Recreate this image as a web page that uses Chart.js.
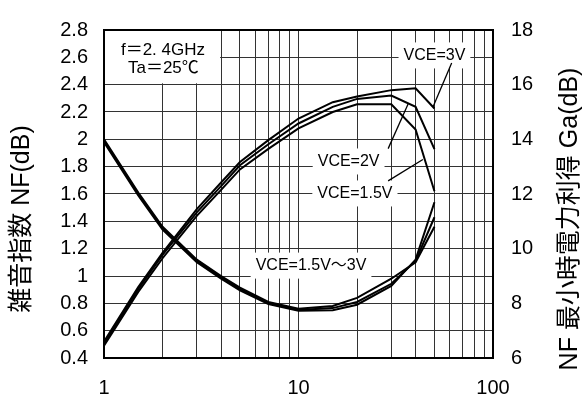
<!DOCTYPE html>
<html>
<head>
<meta charset="utf-8">
<script src="https://cdn.jsdelivr.net/npm/chart.js@4.4.1/dist/chart.umd.min.js"></script>
<style>
    html, body { margin: 0; padding: 0; background: #fff; }
    #wrap { width: 588px; height: 403px; }
</style>
</head>
<body>
<div id="wrap"><canvas id="chart1"></canvas></div>
<script>
// IC (mA)
const icValues = [1, 1.5, 2, 3, 4, 5, 7, 10, 15, 20, 30, 40, 50];

// NF (dB), left axis
const nf3V = [2.00, 1.61, 1.36, 1.12, 1.00, 0.915, 0.81, 0.76, 0.78, 0.84, 0.98, 1.10, 1.36];
const nf2V = [1.99, 1.60, 1.35, 1.11, 0.99, 0.905, 0.80, 0.752, 0.765, 0.81, 0.943, 1.11, 1.43];
const nf15V = [1.98, 1.59, 1.34, 1.10, 0.98, 0.895, 0.795, 0.745, 0.75, 0.79, 0.927, 1.12, 1.54];

// Ga (dB), right axis
const ga3V = [6.60, 8.60, 9.85, 11.45, 12.42, 13.17, 13.97, 14.76, 15.36, 15.57, 15.80, 15.87, 15.13];
const ga2V = [6.52, 8.52, 9.77, 11.33, 12.29, 13.05, 13.82, 14.58, 15.19, 15.48, 15.60, 15.19, 13.64];
const ga15V = [6.45, 8.42, 9.65, 11.20, 12.15, 12.90, 13.65, 14.40, 15.00, 15.28, 15.28, 14.36, 12.10];

const xTicks = [1, 2, 3, 4, 5, 6, 7, 8, 9, 10, 20, 30, 40, 50, 60, 70, 80, 90, 100];
const xLabelTicks = [1, 10, 100];
const nfTicks = [0.4, 0.6, 0.8, 1, 1.2, 1.4, 1.6, 1.8, 2, 2.2, 2.4, 2.6, 2.8];
const gaTicks = [6, 8, 10, 12, 14, 16, 18];

const FONT = '"Liberation Sans", Arial, "Noto Sans CJK JP", sans-serif';

function makeLine(values, axis) {
    return {
        data: icValues.map(function (x, i) { return { x: x, y: values[i] }; }),
        yAxisID: axis,
        borderColor: '#000',
        borderWidth: 2,
        pointRadius: 0,
        tension: 0,
        fill: false
    };
}

// labels and leader lines, placed in data units
const notes = [
    { text: 'VCE=3V', x: 50, y: 17.07, axis: 'y2' },
    { text: 'VCE=2V', x: 18.1, y: 13.19, axis: 'y2' },
    { text: 'VCE=1.5V', x: 19.5, y: 12.02, axis: 'y2' },
    { text: 'VCE=1.5V～3V', x: 11.6, y: 1.076, axis: 'y' }
];
const leaders = [
    { x1: 61.3, y1: 16.79, x2: 49.2, y2: 15.19 },
    { x1: 28.9, y1: 13.66, x2: 36.6, y2: 15.29 },
    { x1: 28.9, y1: 12.48, x2: 43.6, y2: 13.26 }
];

const notePlugin = {
    id: 'notes',
    beforeDatasetsDraw: function (chart) {
        const ctx = chart.ctx;
        const sx = chart.scales.x, sy = chart.scales.y, sg = chart.scales.y2;
        ctx.save();

        // condition box
        const bx1 = sx.getPixelForValue(1), bx2 = sx.getPixelForValue(4);
        const by1 = sy.getPixelForValue(2.8), by2 = sy.getPixelForValue(2.41);
        ctx.fillStyle = '#fff';
        ctx.fillRect(bx1, by1, bx2 - bx1 - 1, by2 - by1);
        ctx.fillStyle = '#000';
        ctx.font = '17px ' + FONT;
        ctx.textAlign = 'center';
        ctx.textBaseline = 'middle';
        ctx.fillText('f＝2. 4GHz', sx.getPixelForValue(2.01), sy.getPixelForValue(2.654));
        ctx.fillText('Ta＝25℃', sx.getPixelForValue(2.02), sy.getPixelForValue(2.522));

        ctx.font = '16px ' + FONT;
        notes.forEach(function (n) {
            const scale = n.axis === 'y2' ? sg : sy;
            const px = sx.getPixelForValue(n.x), py = scale.getPixelForValue(n.y);
            const w = ctx.measureText(n.text).width;
            ctx.fillStyle = '#fff';
            ctx.fillRect(px - w / 2 - 5, py - 13, w + 10, 26);
            ctx.fillStyle = '#000';
            ctx.fillText(n.text, px, py);
        });

        ctx.strokeStyle = '#000';
        ctx.lineWidth = 1.3;
        leaders.forEach(function (l) {
            ctx.beginPath();
            ctx.moveTo(sx.getPixelForValue(l.x1), sg.getPixelForValue(l.y1));
            ctx.lineTo(sx.getPixelForValue(l.x2), sg.getPixelForValue(l.y2));
            ctx.stroke();
        });
        ctx.restore();
    },
    afterDraw: function (chart) {
        const ctx = chart.ctx;
        const a = chart.chartArea;
        const midY = (a.top + a.bottom) / 2;
        ctx.save();
        ctx.strokeStyle = '#000';
        ctx.lineWidth = 2;
        ctx.strokeRect(a.left, a.top, a.right - a.left, a.bottom - a.top);

        ctx.fillStyle = '#000';
        ctx.font = '25px ' + FONT;
        ctx.textAlign = 'center';
        ctx.textBaseline = 'middle';

        ctx.translate(a.left - 82, midY + 25);
        ctx.rotate(-Math.PI / 2);
        ctx.fillText('雑音指数 NF(dB)', 0, 0);
        ctx.restore();

        ctx.save();
        ctx.fillStyle = '#000';
        ctx.font = '25px ' + FONT;
        ctx.textAlign = 'center';
        ctx.textBaseline = 'middle';
        ctx.translate(a.right + 77, midY + 25);
        ctx.rotate(-Math.PI / 2);
        ctx.fillText('NF 最小時電力利得 Ga(dB)', 0, 0);
        ctx.restore();
    }
};

Chart.defaults.font.family = FONT;
Chart.defaults.color = '#000';

const ctx1 = document.getElementById('chart1');
const myChart = new Chart(ctx1, {
    type: 'line',
    data: {
        datasets: [
            makeLine(nf3V, 'y'),
            makeLine(nf2V, 'y'),
            makeLine(nf15V, 'y'),
            makeLine(ga3V, 'y2'),
            makeLine(ga2V, 'y2'),
            makeLine(ga15V, 'y2')
        ]
    },
    options: {
        responsive: true,
        maintainAspectRatio: false,
        animation: false,
        layout: {
            padding: { top: 21, left: 0, right: 0, bottom: 0 }
        },
        plugins: {
            legend: { display: false },
            tooltip: { enabled: false }
        },
        scales: {
            x: {
                type: 'logarithmic',
                min: 1,
                max: 100,
                afterBuildTicks: function (scale) {
                    scale.ticks = xTicks.map(function (v) { return { value: v }; });
                },
                afterFit: function (scale) { scale.height = 45; },
                grid: { color: '#333', lineWidth: 1, drawTicks: false },
                border: { display: false },
                ticks: {
                    autoSkip: false,
                    maxRotation: 0,
                    padding: 18,
                    font: { size: 20 },
                    callback: function (v) {
                        return xLabelTicks.indexOf(v) >= 0 ? String(v) : '';
                    }
                }
            },
            y: {
                position: 'left',
                min: 0.4,
                max: 2.8,
                afterBuildTicks: function (scale) {
                    scale.ticks = nfTicks.map(function (v) { return { value: v }; });
                },
                afterFit: function (scale) { scale.width = 104; },
                grid: { color: '#333', lineWidth: 1, drawTicks: false },
                border: { display: false },
                ticks: {
                    padding: 16,
                    font: { size: 20 },
                    callback: function (v) { return String(v); }
                }
            },
            y2: {
                position: 'right',
                min: 6,
                max: 18,
                afterBuildTicks: function (scale) {
                    scale.ticks = gaTicks.map(function (v) { return { value: v }; });
                },
                afterFit: function (scale) { scale.width = 95; },
                grid: { drawOnChartArea: false, drawTicks: false },
                border: { display: false },
                ticks: {
                    padding: 18,
                    font: { size: 20 },
                    callback: function (v) { return String(v); }
                }
            }
        }
    },
    plugins: [notePlugin]
});
</script>
</body>
</html>
